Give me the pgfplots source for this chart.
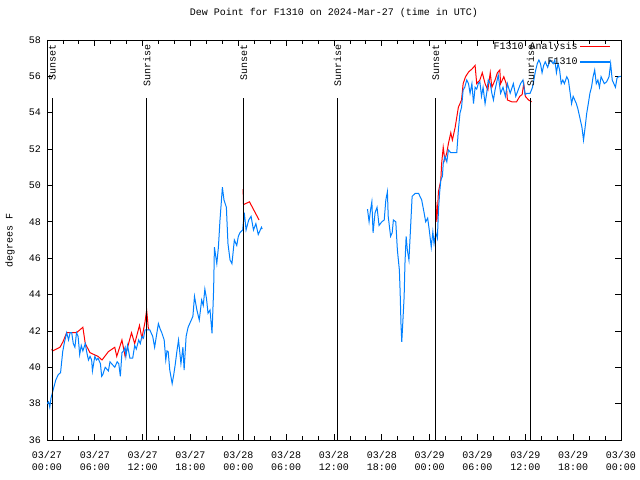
\documentclass[border=0pt]{standalone}
\usepackage{fontspec}
\setmainfont{Liberation Mono}
\usepackage{pgfplots}
\pgfplotsset{compat=1.18}
\definecolor{obs}{RGB}{0,128,255}
\definecolor{ana}{RGB}{255,0,0}

\pgfplotstableread{
h v
0.0 38.0
0.2 38.1
0.35 37.8
0.5 38.3
0.8 38.8
1.1 39.3
1.42 39.6
1.7 39.7
1.97 40.86
2.2 41.4
2.47 41.9
2.7 41.5
2.9 41.9
3.1 41.9
3.3 41.3
3.5 41.1
3.7 41.9
3.9 41.7
4.1 40.7
4.3 41.2
4.5 40.9
4.8 41.3
5.0 40.8
5.2 40.4
5.4 40.6
5.6 40.4
5.7 39.8
6.0 40.6
6.2 40.4
6.4 40.5
6.7 40.2
6.86 39.5
7.0 39.6
7.3 40.0
7.5 39.9
7.7 39.8
7.9 40.3
8.1 40.2
8.3 40.1
8.5 40.0
8.8 40.3
9.0 40.2
9.2 39.5
9.4 40.8
9.6 40.9
9.8 41.1
9.9 40.6
10.1 41.2
10.4 40.5
10.75 40.5
11.0 41.2
11.2 41.0
11.5 41.5
11.7 41.3
11.9 41.7
12.1 41.6
12.3 42.05
12.5 42.05
12.9 42.05
13.26 41.7
13.5 41.1
13.75 41.8
13.97 42.4
14.2 42.1
14.4 41.9
14.7 41.5
14.9 40.4
15.05 40.9
15.2 40.86
15.4 39.85
15.7 39.1
15.9 39.6
16.1 40.2
16.3 40.9
16.5 41.5
16.8 40.2
17.05 41.1
17.2 39.85
17.45 41.7
17.7 42.2
18.0 42.5
18.3 42.8
18.5 43.9
18.8 43.15
19.1 42.6
19.4 43.7
19.6 43.4
19.8 44.3
20.0 43.8
20.2 42.97
20.45 43.15
20.7 41.87
20.9 44.25
21.0 46.6
21.3 45.7
21.5 46.6
21.7 48.1
22.0 49.9
22.2 49.2
22.5 48.8
22.7 46.8
22.96 45.9
23.2 45.7
23.5 47.0
23.8 46.7
24.0 47.2
24.2 47.4
24.55 47.55
24.75 48.5
24.97 47.55
25.3 48.1
25.6 48.3
25.9 47.55
26.2 47.9
26.5 47.3
26.9 47.7
27.0 47.6
33.0 nan
40.2 48.7
40.4 48.0
40.6 48.7
40.75 49.1
40.9 47.4
41.15 48.5
41.4 48.8
41.65 47.8
42.0 48.0
42.3 48.1
42.5 49.2
42.7 49.65
42.8 48.3
43.1 47.2
43.3 47.4
43.45 48.1
43.75 48.0
43.95 46.45
44.2 45.35
44.3 44.1
44.4 42.4
44.5 41.4
44.6 42.2
44.8 43.9
44.9 45.7
45.05 47.2
45.2 46.45
45.4 45.9
45.55 47.2
45.8 49.4
46.2 49.57
46.6 49.57
47.0 49.2
47.3 48.5
47.5 48.0
47.75 48.2
47.95 47.55
48.2 46.6
48.4 47.45
48.55 46.8
48.77 47.4
48.97 47.1
49.1 48.6
49.25 49.6
49.4 50.3
49.6 50.5
49.7 51.2
49.9 51.6
50.15 51.3
50.35 51.95
50.65 51.8
50.97 51.8
51.4 51.8
51.6 53.05
51.8 53.97
52.0 54.3
52.2 55.25
52.4 55.4
52.65 55.8
52.87 55.6
53.07 55.07
53.3 55.6
53.5 54.5
53.7 55.4
53.9 55.3
54.1 55.6
54.3 55.7
54.5 54.9
54.7 55.4
54.95 54.5
55.15 55.07
55.35 55.8
55.6 55.6
55.8 55.07
56.0 54.7
56.2 55.25
56.6 56.07
56.9 55.07
57.2 55.4
57.5 54.9
57.75 55.6
58.1 55.07
58.5 55.6
58.8 54.9
59.1 55.25
59.4 55.6
59.7 55.8
59.97 55.0
60.2 55.07
60.6 55.07
60.9 55.4
61.25 56.25
61.5 56.7
61.7 56.9
61.9 56.7
62.1 56.2
62.3 56.6
62.5 56.8
62.8 56.5
63.1 56.9
63.5 56.7
63.7 56.9
63.9 56.2
64.1 56.7
64.3 56.35
64.5 55.6
64.7 55.8
64.9 55.6
65.2 55.98
65.4 55.8
65.6 55.16
65.8 54.5
66.0 54.9
66.2 54.7
66.4 54.5
66.6 54.2
66.8 53.8
67.1 53.2
67.3 52.5
67.5 53.2
67.7 53.97
67.9 54.5
68.1 55.07
68.3 55.4
68.5 55.98
68.7 56.35
68.9 55.6
69.1 55.8
69.3 55.4
69.5 55.98
69.7 55.8
69.9 55.6
70.2 55.7
70.5 55.98
70.7 56.7
70.9 55.8
71.1 55.6
71.3 55.4
71.5 55.9
71.7 55.98
72.0 56.0
}\obstable

\pgfplotstableread{
h v
0.6 41.0
0.7 40.9
1.63 41.1
2.0 41.4
2.47 41.9
3.7 41.9
4.5 42.2
4.8 41.3
5.4 40.8
6.4 40.6
6.9 40.4
7.7 40.86
8.5 41.1
8.75 40.6
9.4 41.5
9.8 40.6
10.6 41.9
11.0 41.3
11.6 42.3
11.9 41.6
12.3 42.5
12.5 43.15
12.7 42.2
12.8 42.05
18.0 nan
24.6 49.8
24.65 48.95
25.4 49.1
26.6 48.1
35.0 nan
48.77 49.1
48.9 48.0
49.1 49.65
49.4 50.3
49.5 51.2
49.7 52.1
49.9 51.4
50.15 51.8
50.35 52.3
50.65 52.9
50.85 52.5
51.2 53.2
51.6 54.3
52.0 54.7
52.2 55.6
52.5 55.98
52.9 56.25
53.3 56.4
53.7 56.6
53.9 55.6
54.3 55.8
54.6 56.2
54.95 55.6
55.3 55.25
55.6 56.2
55.8 55.4
56.2 55.8
56.5 56.2
56.8 56.35
56.9 55.6
57.3 55.98
57.6 55.6
57.75 54.7
58.3 54.6
58.9 54.6
59.3 54.9
59.6 55.0
59.8 55.6
60.0 54.9
60.4 54.7
60.8 54.6
}\anatable

\begin{document}
\fontsize{10bp}{12bp}\selectfont
\begin{tikzpicture}
\begin{axis}[
  at={(47bp,40bp)}, anchor=south west,
  scale only axis, width=574bp, height=400bp,
  xmin=0, xmax=72, ymin=36, ymax=58,
  xtick={0,6,...,72},
  xticklabels={{03/27\\00:00},{03/27\\06:00},{03/27\\12:00},{03/27\\18:00},{03/28\\00:00},{03/28\\06:00},{03/28\\12:00},{03/28\\18:00},{03/29\\00:00},{03/29\\06:00},{03/29\\12:00},{03/29\\18:00},{03/30\\00:00}},
  minor x tick num=2,
  ytick={36,38,...,58},
  tick align=inside,
  major tick length=6bp, minor tick length=4bp,
  tick style={black, line width=0.8bp},
  axis line style={black, line width=0.8bp},
  /pgf/number format/assume math mode=true,
  xticklabel style={align=center, font=\fontsize{10bp}{12bp}\selectfont, inner sep=2bp, yshift=-9bp},
  yticklabel style={font=\fontsize{10bp}{12bp}\selectfont, inner sep=2bp, xshift=-4bp},
  ylabel={degrees F},
  ylabel style={at={(axis description cs:-0.0645,0.5)}, anchor=center, font=\fontsize{10bp}{12bp}\selectfont},
  title={Dew Point for F1310 on 2024-Mar-27 (time in UTC)},
  title style={at={(axis description cs:0.5,1.0525)}, anchor=center, font=\fontsize{10bp}{12bp}\selectfont},
  unbounded coords=jump,
  legend style={at={(axis description cs:1,1)}, anchor=north east, xshift=-10bp, yshift=0bp, draw=none, fill=none, font=\fontsize{10bp}{12bp}\selectfont, inner sep=0pt, row sep=3bp},
  legend cell align=right,
  legend plot pos=right,
  legend image code/.code={\draw[#1, line width=1.2bp] (0bp,0bp) -- (30bp,0bp);},
]
\addplot[ana, line width=1bp] table[x=h, y=v] {\anatable};
\addlegendentry{F1310 Analysis}
\addplot[obs, line width=1bp] table[x=h, y=v] {\obstable};
\addlegendentry{F1310}

\addplot[black, line width=0.8bp, forget plot] coordinates {(0.63,36) (0.63,54.8)};
\addplot[black, line width=0.8bp, forget plot] coordinates {(12.46,36) (12.46,54.8)};
\addplot[black, line width=0.8bp, forget plot] coordinates {(24.63,36) (24.63,54.8)};
\addplot[black, line width=0.8bp, forget plot] coordinates {(36.39,36) (36.39,54.8)};
\addplot[black, line width=0.8bp, forget plot] coordinates {(48.72,36) (48.72,54.8)};
\addplot[black, line width=0.8bp, forget plot] coordinates {(60.6,36) (60.6,54.8)};
\node[rotate=90, anchor=east, inner sep=0pt] at (axis cs:0.68,57.75) {Sunset};
\node[rotate=90, anchor=east, inner sep=0pt] at (axis cs:12.51,57.75) {Sunrise};
\node[rotate=90, anchor=east, inner sep=0pt] at (axis cs:24.68,57.75) {Sunset};
\node[rotate=90, anchor=east, inner sep=0pt] at (axis cs:36.44,57.75) {Sunrise};
\node[rotate=90, anchor=east, inner sep=0pt] at (axis cs:48.77,57.75) {Sunset};
\node[rotate=90, anchor=east, inner sep=0pt] at (axis cs:60.65,57.75) {Sunrise};
\end{axis}
\pgfresetboundingbox
\path[use as bounding box] (0,0) rectangle (640bp,480bp);
\end{tikzpicture}
\end{document}
